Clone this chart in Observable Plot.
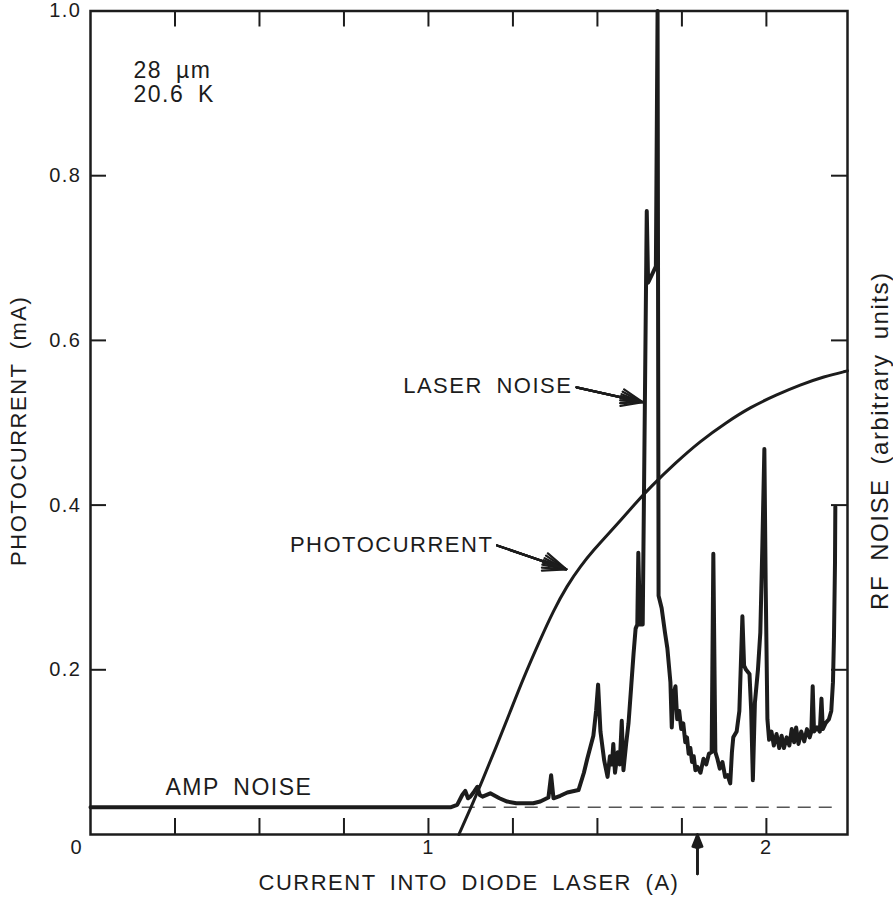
<!DOCTYPE html>
<html>
<head>
<meta charset="utf-8">
<script src="https://cdn.jsdelivr.net/npm/d3@7"></script>
<script src="https://cdn.jsdelivr.net/npm/@observablehq/plot@0.6"></script>
<style>
  body { margin: 0; background: #fff; }
  #chart svg text { word-spacing: 6px; }
</style>
</head>
<body>
<div id="chart"></div>
<script>
// ---- data (x: current into diode laser, A; y: photocurrent, mA / RF noise, arb.) ----
const noiseX = [0.0, 1.065, 1.085, 1.10, 1.109, 1.117, 1.124, 1.135, 1.145, 1.152, 1.16, 1.183, 1.21, 1.233, 1.26, 1.281, 1.31, 1.331, 1.355, 1.363, 1.370, 1.39, 1.411, 1.444, 1.46, 1.470, 1.488, 1.496, 1.502, 1.509, 1.52, 1.53, 1.537, 1.543, 1.547, 1.552, 1.56, 1.566, 1.572, 1.577, 1.585, 1.592, 1.600, 1.607, 1.613, 1.618, 1.621, 1.626, 1.634, 1.646, 1.650, 1.673, 1.678, 1.681, 1.690, 1.700, 1.707, 1.716, 1.720, 1.725, 1.731, 1.736, 1.742, 1.748, 1.754, 1.760, 1.765, 1.770, 1.775, 1.780, 1.785, 1.790, 1.796, 1.805, 1.814, 1.822, 1.830, 1.838, 1.843, 1.849, 1.855, 1.862, 1.870, 1.878, 1.885, 1.893, 1.898, 1.902, 1.912, 1.920, 1.929, 1.934, 1.940, 1.950, 1.955, 1.960, 1.966, 1.975, 1.982, 1.988, 1.994, 1.998, 2.003, 2.008, 2.015, 2.022, 2.030, 2.038, 2.045, 2.052, 2.060, 2.068, 2.075, 2.082, 2.088, 2.095, 2.103, 2.112, 2.120, 2.128, 2.133, 2.137, 2.141, 2.150, 2.158, 2.163, 2.167, 2.175, 2.185, 2.192, 2.197, 2.200, 2.203, 2.204];
const noiseY = [0.033, 0.033, 0.036, 0.048, 0.053, 0.044, 0.046, 0.052, 0.058, 0.048, 0.046, 0.050, 0.044, 0.040, 0.038, 0.038, 0.038, 0.040, 0.045, 0.072, 0.044, 0.047, 0.051, 0.054, 0.075, 0.092, 0.120, 0.150, 0.182, 0.125, 0.090, 0.070, 0.095, 0.085, 0.110, 0.075, 0.100, 0.085, 0.138, 0.078, 0.110, 0.135, 0.180, 0.220, 0.250, 0.255, 0.342, 0.255, 0.255, 0.757, 0.670, 0.690, 1.0, 0.290, 0.275, 0.245, 0.226, 0.185, 0.130, 0.170, 0.180, 0.140, 0.150, 0.128, 0.135, 0.112, 0.118, 0.098, 0.105, 0.088, 0.095, 0.078, 0.082, 0.075, 0.092, 0.085, 0.098, 0.100, 0.341, 0.100, 0.092, 0.080, 0.088, 0.070, 0.072, 0.062, 0.100, 0.118, 0.125, 0.150, 0.265, 0.205, 0.200, 0.195, 0.150, 0.066, 0.160, 0.200, 0.245, 0.350, 0.468, 0.300, 0.140, 0.115, 0.125, 0.108, 0.122, 0.105, 0.120, 0.105, 0.118, 0.108, 0.128, 0.112, 0.130, 0.110, 0.125, 0.113, 0.128, 0.118, 0.125, 0.180, 0.125, 0.130, 0.125, 0.165, 0.128, 0.135, 0.140, 0.150, 0.185, 0.240, 0.330, 0.398];

const photoX = [1.09, 1.125, 1.16, 1.20, 1.24, 1.28, 1.33, 1.37, 1.41, 1.45, 1.49, 1.53, 1.57, 1.61, 1.657, 1.73, 1.805, 1.88, 1.953, 2.03, 2.10, 2.17, 2.24];
const photoY = [0.0, 0.032, 0.066, 0.106, 0.147, 0.189, 0.236, 0.272, 0.302, 0.326, 0.346, 0.364, 0.382, 0.401, 0.422, 0.451, 0.478, 0.500, 0.519, 0.534, 0.546, 0.556, 0.563];

const ampNoiseLevel = 0.033;
const dashedRange = [1.10, 2.21];

const xTickPositions = [0.25, 0.5, 0.75, 1.0, 1.25, 1.5, 1.75, 2.0];
const yTickPositions = [0.2, 0.4, 0.6, 0.8];
const xTickLabels = [1, 2];
const yTickLabels = [0.2, 0.4, 0.6, 0.8, 1.0];

const labelTexts = ["28 µm", "20.6 K", "LASER NOISE", "PHOTOCURRENT", "AMP NOISE"];
const labelX = [0.127, 0.127, 1.426, 1.192, 0.222];
const labelY = [0.928, 0.898, 0.545, 0.351, 0.057];
const labelAnchor = ["start", "start", "end", "end", "start"];
const labelSize = [23, 23, 22, 22, 23];

const arrowX1 = [1.438, 1.203, 1.796];
const arrowY1 = [0.543, 0.351, -0.048];
const arrowX2 = [1.634, 1.408, 1.796];
const arrowY2 = [0.525, 0.322, 0.0];

const xTitle = "CURRENT INTO DIODE LASER (A)";
const yTitle = "PHOTOCURRENT (mA)";
const y2Title = "RF NOISE (arbitrary units)";

// ---- build tables ----
const noise = noiseX.map((x, i) => ({x, y: noiseY[i]}));
const photo = photoX.map((x, i) => ({x, y: photoY[i]}));
const labels = labelTexts.map((t, i) => ({t, x: labelX[i], y: labelY[i], a: labelAnchor[i], s: labelSize[i]}));
const arrows = arrowX1.map((x1, i) => ({x1, y1: arrowY1[i], x2: arrowX2[i], y2: arrowY2[i]}));

const W = 893, H = 906, mL = 90, mR = 46, mT = 10.5, mB = 72;
const innerW = W - mL - mR, innerH = H - mT - mB;
const ink = "#1c1c1c";
const tick = 16;

const labelMarks = [];
for (const a of ["start", "end"]) for (const s of [22, 23]) {
  const sub = labels.filter(d => d.a === a && d.s === s);
  if (sub.length) labelMarks.push(Plot.text(sub, {x: "x", y: "y", text: "t", textAnchor: a, fontSize: s, fill: ink}));
}
const arrowMarks = [44, 30, 16, 6].map(ang =>
  Plot.arrow(arrows, {x1: "x1", y1: "y1", x2: "x2", y2: "y2", stroke: ink, strokeWidth: 2.2, headLength: 17, headAngle: ang})
);

const chart = Plot.plot({
  width: W, height: H,
  marginLeft: mL, marginRight: mR, marginTop: mT, marginBottom: mB,
  x: {domain: [0, 2.24], axis: null},
  y: {domain: [0, 1.0], axis: null},
  style: {fontFamily: "'Liberation Sans', Arial, sans-serif", fontSize: "22px", color: ink, background: "#fff", letterSpacing: "1.5px", overflow: "visible"},
  marks: [
    // dashed amp-noise reference
    Plot.ruleY([{y: ampNoiseLevel, x1: dashedRange[0], x2: dashedRange[1]}], {y: "y", x1: "x1", x2: "x2", stroke: "#555", strokeWidth: 1.6, strokeDasharray: "13,8"}),
    // inward ticks
    Plot.tickX(xTickPositions, {x: d => d, insetBottom: innerH - tick, stroke: ink, strokeWidth: 2}),
    Plot.tickX(xTickPositions, {x: d => d, insetTop: innerH - tick, stroke: ink, strokeWidth: 2}),
    Plot.tickY(yTickPositions, {y: d => d, insetRight: innerW - tick, stroke: ink, strokeWidth: 2}),
    Plot.tickY(yTickPositions, {y: d => d, insetLeft: innerW - tick, stroke: ink, strokeWidth: 2}),
    Plot.frame({stroke: ink, strokeWidth: 2.5}),
    // curves
    Plot.line(photo, {x: "x", y: "y", stroke: ink, strokeWidth: 3, curve: "basis"}),
    Plot.line(noise, {x: "x", y: "y", stroke: ink, strokeWidth: 4, strokeLinejoin: "round", strokeLinecap: "round"}),
    // tick labels
    Plot.text(xTickLabels, {x: d => d, frameAnchor: "bottom", dy: 19, text: d => String(d), fontSize: 20, fill: ink}),
    Plot.text(["0"], {frameAnchor: "bottom-left", dx: -20, dy: 19, text: d => d, fontSize: 20, fill: ink}),
    Plot.text(yTickLabels, {y: d => d, frameAnchor: "left", textAnchor: "end", dx: -9, text: d => d.toFixed(1), fontSize: 20, fill: ink}),
    // annotations
    ...labelMarks,
    ...arrowMarks,
    // axis titles
    Plot.text([yTitle], {frameAnchor: "left", textAnchor: "middle", dx: -72, dy: 8, rotate: -90, text: d => d, fill: ink}),
    Plot.text([y2Title], {frameAnchor: "right", textAnchor: "middle", dx: 33, dy: 18, rotate: -90, text: d => d, fontSize: 24, fill: ink}),
    Plot.text([xTitle], {frameAnchor: "bottom", dy: 55, text: d => d, fill: ink})
  ]
});
document.getElementById("chart").appendChild(chart);
</script>
</body>
</html>
